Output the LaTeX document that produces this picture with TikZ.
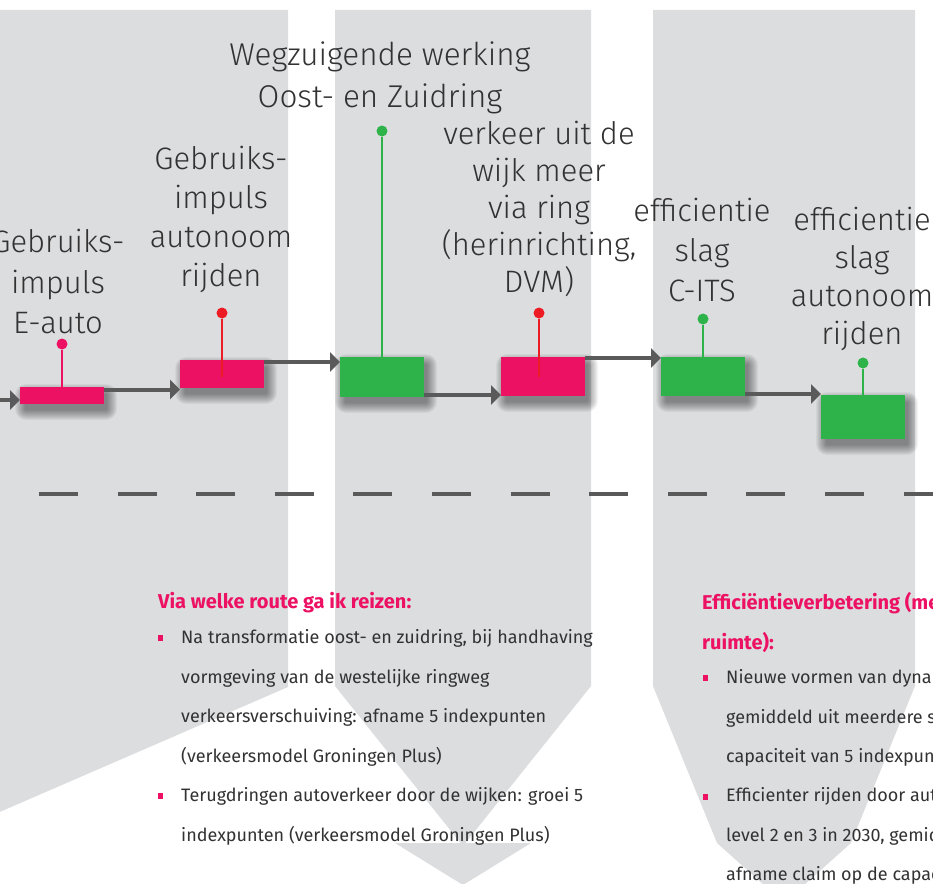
\documentclass[tikz,border=0pt]{standalone}
\usepackage{fontspec}
\setmainfont{Fira Sans}
\newfontfamily\lblfont{Fira Sans Light}
\usetikzlibrary{arrows.meta}
\definecolor{bggray}{RGB}{220,221,223}
\definecolor{pinkc}{RGB}{237,17,100}
\definecolor{redc}{RGB}{237,28,36}
\definecolor{greenc}{RGB}{45,179,74}
\definecolor{arrgray}{RGB}{90,90,90}
\definecolor{txtc}{RGB}{50,50,50}
\pgfdeclarelayer{bglayer}
\pgfdeclarelayer{shadowlayer}
\pgfsetlayers{bglayer,shadowlayer,main}
\begin{document}
\begin{tikzpicture}[x=1pt,y=-1pt,
  bgshape/.style={fill=bggray,draw=none},
  box/.style={minimum width=84pt,inner sep=0pt,outer sep=0pt},
  pbox/.style={box,fill=pinkc},
  gbox/.style={box,fill=greenc},
  shadowlayerfill/.style={fill=black,fill opacity=0.045},
  flow/.style={draw=arrgray,line width=4pt,-{Triangle[length=10pt,width=19pt]}},
  pinline/.style={line width=2.5pt},
  dot/.style={circle,inner sep=0pt,minimum size=11pt},
  lbl/.style={text=txtc,align=center,inner sep=0pt},
  dashline/.style={draw=arrgray,line width=3.5pt,dash pattern=on 39pt off 39.6pt},
  bodytxt/.style={text=txtc,align=left,inner sep=0pt,anchor=north west,
    font=\fontsize{18}{39.5}\selectfont},
  headtxt/.style={text=pinkc,align=left,inner sep=0pt,anchor=north west,
    font=\bfseries\fontsize{20}{40}\selectfont},
  bul/.style={fill=pinkc,inner sep=0pt,minimum width=5pt,minimum height=6pt}
]
\path[use as bounding box,clip] (0,0) rectangle (933,883);
% background shapes
\begin{pgfonlayer}{bglayer}
\fill[bgshape] (-5,10) -- (288,10) -- (288,687) -- (-5,814) -- cycle;
\fill[bgshape] (335,10) -- (591,10) -- (591,686) -- (463,846) -- (335,686) -- cycle;
\fill[bgshape] (395,843) -- (531,843) -- (463,885) -- cycle;
\fill[bgshape] (653,10) -- (915,10) -- (915,686) -- (851,843) -- (784,903) -- (717,843) -- (653,686) -- cycle;
% dashed line
\coordinate (dl1) at (39,494);
\coordinate (dl2) at (945,494);
\draw[dashline] (dl1) -- (dl2);
\end{pgfonlayer}
% boxes
\node[pbox,minimum height=17pt] (b1) at (62,395.5) {};
\node[pbox,minimum height=28pt] (b2) at (222,374) {};
\node[gbox,minimum height=40pt] (b3) at (382,377) {};
\node[pbox,minimum height=39pt] (b4) at (543,376.5) {};
\node[gbox,minimum height=39pt] (b5) at (703,376.5) {};
\node[gbox,minimum height=44pt] (b6) at (863,417) {};
% soft shadows
\begin{pgfonlayer}{shadowlayer}
\foreach \b in {b1,b2,b3,b4,b5,b6}{
  \foreach \s in {1,2,...,11}{
    \fill[shadowlayerfill,rounded corners=\s pt]
      ([xshift={(6-\s)*1pt},yshift={(-8+\s)*1pt}]\b.north west)
      rectangle ([xshift={(2+\s)*1pt},yshift={(-5-\s)*1pt}]\b.south east);
  }
}
\end{pgfonlayer}
% flow arrows
\coordinate (c0) at (-5,400);
\draw[flow] (c0) -- (b1.west |- 0,400);
\draw[flow] (b1.east |- 0,389.5) -- (b2.west |- 0,389.5);
\draw[flow] (b2.east |- 0,362) -- (b3.west |- 0,362);
\draw[flow] (b3.east |- 0,395) -- (b4.west |- 0,395);
\draw[flow] (b4.east |- 0,358) -- (b5.west |- 0,358);
\draw[flow] (b5.east |- 0,394) -- (b6.west |- 0,394);
% pins
\node[dot,fill=pinkc] (d1) at (62,344) {};
\node[dot,fill=redc] (d2) at (222,313) {};
\node[dot,fill=greenc] (d3) at (382,131) {};
\node[dot,fill=redc] (d4) at (539,313) {};
\node[dot,fill=greenc] (d5) at (703,319) {};
\node[dot,fill=greenc] (d6) at (863,363) {};
\coordinate (e2) at (222,377);
\coordinate (e4) at (539,377);
\draw[pinline,draw=pinkc] (d1) -- (b1.north);
\draw[pinline,draw=redc] (d2) -- (e2);
\draw[pinline,draw=greenc] (d3) -- (b3.north);
\draw[pinline,draw=redc] (d4) -- (e4);
\draw[pinline,draw=greenc] (d5) -- (b5.north);
\draw[pinline,draw=greenc] (d6) -- (b6.north);
% labels
\node[lbl,font=\lblfont\fontsize{31}{40.5}\selectfont] (l1) at (58,281.5) {Gebruiks-\\impuls\\E-auto};
\node[lbl,font=\lblfont\fontsize{31}{38.7}\selectfont] (l2) at (221,219.5) {Gebruiks-\\impuls\\autonoom\\rijden};
\node[lbl,font=\lblfont\fontsize{31.5}{42}\selectfont] (l3) at (380,78) {Wegzuigende werking\\Oost- en Zuidring};
\node[lbl,font=\lblfont\fontsize{31}{37}\selectfont] (l4) at (539,209) {verkeer uit de\\wijk meer\\via ring\\(herinrichting,\\DVM)};
\node[lbl,font=\lblfont\fontsize{31}{40}\selectfont] (l5) at (702,250) {efficientie\\slag\\C-ITS};
\node[lbl,font=\lblfont\fontsize{31}{38.3}\selectfont] (l6) at (862,279) {efficientie\\slag\\autonoom\\rijden};
% left text column
\node[headtxt] (h1) at (158,592) {Via welke route ga ik reizen:};
\node[bul] (u1) at (160.5,638) {};
\node[bodytxt] (p1) at (181,629.5) {Na transformatie oost- en zuidring, bij handhaving\\vormgeving van de westelijke ringweg\\verkeersverschuiving: afname 5 indexpunten\\(verkeersmodel Groningen Plus)};
\node[bul] (u2) at (160.5,796) {};
\node[bodytxt] (p2) at (181,787.5) {Terugdringen autoverkeer door de wijken: groei 5\\indexpunten (verkeersmodel Groningen Plus)};
% right text column
\node[headtxt] (h2) at (702,592) {Efficiëntieverbetering (meer\\ruimte):};
\node[bul] (u3) at (705.5,678) {};
\node[bodytxt] (p3) at (726,669.5) {Nieuwe vormen van dynamisch\\gemiddeld uit meerdere studies\\capaciteit van 5 indexpunten};
\node[bul] (u4) at (705.5,797) {};
\node[bodytxt] (p4) at (726,787.5) {Efficienter rijden door autonome\\level 2 en 3 in 2030, gemiddeld\\afname claim op de capaciteit};
\end{tikzpicture}
\end{document}
